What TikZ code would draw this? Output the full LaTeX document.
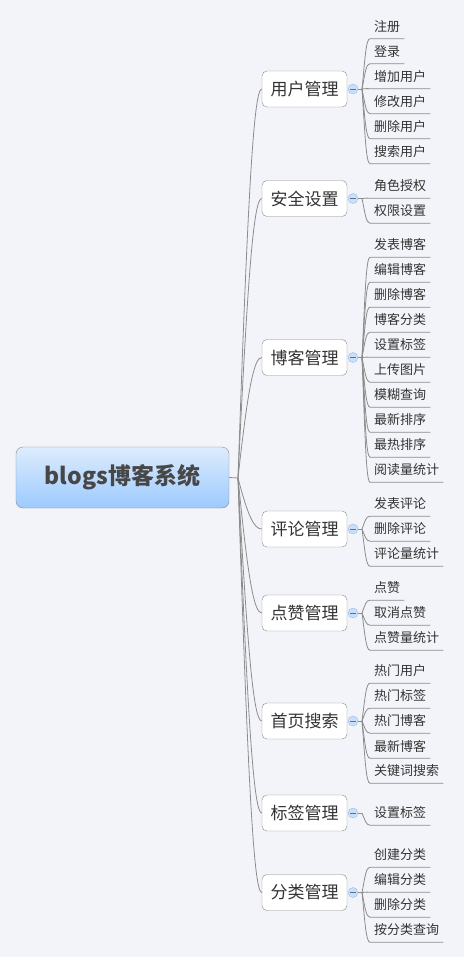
\documentclass[tikz,border=0pt]{standalone}
\usepackage{fontspec}
\newfontfamily\cjk{Noto Sans CJK SC}
\usetikzlibrary{calc}
\definecolor{bgcol}{HTML}{F3F4F9}
\definecolor{linecol}{HTML}{8C8C8C}
\definecolor{boxcol}{HTML}{8A8A8A}
\definecolor{rootA}{HTML}{DDECFD}
\definecolor{rootB}{HTML}{9CCAFE}
\definecolor{dotfill}{HTML}{CCDFF9}
\definecolor{dotdraw}{HTML}{98BBEB}
\definecolor{txtcol}{HTML}{333333}
\tikzset{rootbox/.style = {draw=boxcol,rounded corners=7pt,top color=rootA,bottom color=rootB,
                           minimum width=213pt,minimum height=61pt,inner sep=0pt,
                           font=\cjk\bfseries\fontsize{23}{27}\selectfont,text=black!72}}
\tikzset{branch/.style = {draw=boxcol,fill=white,rounded corners=5pt,minimum width=85pt,
                          minimum height=36pt,inner sep=0pt,font=\cjk\fontsize{17}{20}\selectfont,text=txtcol}}
\tikzset{leaf/.style = {anchor=west,minimum height=24pt,inner xsep=4pt,inner ysep=0pt,
                        font=\cjk\fontsize{13}{16}\selectfont,text=txtcol}}
\tikzset{link/.style = {draw=linecol,line width=0.8pt}}
\tikzset{dot/.style = {circle,draw=dotdraw,fill=dotfill,minimum size=10pt,inner sep=0pt}}
% #1 branch name, #2 its y, #3 number of leaves, #4 leaves
\newcommand\leafgroup[4]{%
  \node[dot] (#1-dot) at (353,#2) {};
  \draw[dotdraw!60!black,line width=0.7pt] (#1-dot.center) +(-2.8,0) -- +(2.8,0);
  \coordinate (#1-fork) at (362,#2);
  \draw[link] (#1-dot) -- (#1-fork);
  \foreach \txt [count=\i] in {#4}{
    \pgfmathsetmacro\ly{#2+(\i-(#3+1)/2)*25}
    \pgfmathsetmacro\uy{\ly+12}
    \pgfmathsetmacro\cy{#2+0.6*(\uy-#2)}
    \node[leaf] (#1-\i) at (370,\ly) {\txt};
    \draw[link] (#1-fork) .. controls (365,\cy) and (366,\uy) .. (#1-\i.south west) -- (#1-\i.south east);
  }
}
% #1 branch node, #2 its y
\newcommand\branchlink[2]{%
  \pgfmathsetmacro\cy{#2+0.25*(478-#2)}
  \draw[link] (hub) .. controls (248,\cy) and (254,#2) .. (#1.west);
}
\begin{document}
\begin{tikzpicture}[x=1pt,y=-1pt]
    \fill[bgcol] (0,0) rectangle (464,957);
    \useasboundingbox (0,0) rectangle (464,957);

    \node[rootbox] (root) at (122.5,477.5) {blogs博客系统};
    \coordinate (hub) at (238,478);
    \draw[link] (root.east) -- (hub);

    \node[branch] (user) at (304.5,89) {用户管理};
    \node[branch] (safe) at (304.5,198.5) {安全设置};
    \node[branch] (blog) at (304.5,357.5) {博客管理};
    \node[branch] (comment) at (304.5,529) {评论管理};
    \node[branch] (like) at (304.5,613) {点赞管理};
    \node[branch] (home) at (304.5,721) {首页搜索};
    \node[branch] (tag) at (304.5,813) {标签管理};
    \node[branch] (sort) at (304.5,892.5) {分类管理};

    \branchlink{user}{89}
    \branchlink{safe}{198.5}
    \branchlink{blog}{357.5}
    \branchlink{comment}{529}
    \branchlink{like}{613}
    \branchlink{home}{721}
    \branchlink{tag}{813}
    \branchlink{sort}{892.5}

    \leafgroup{user}{89}{6}{注册,登录,增加用户,修改用户,删除用户,搜索用户}
    \leafgroup{safe}{198.5}{2}{角色授权,权限设置}
    \leafgroup{blog}{357.5}{10}{发表博客,编辑博客,删除博客,博客分类,设置标签,上传图片,模糊查询,最新排序,最热排序,阅读量统计}
    \leafgroup{comment}{529}{3}{发表评论,删除评论,评论量统计}
    \leafgroup{like}{613}{3}{点赞,取消点赞,点赞量统计}
    \leafgroup{home}{721}{5}{热门用户,热门标签,热门博客,最新博客,关键词搜索}
    \leafgroup{tag}{813}{1}{设置标签}
    \leafgroup{sort}{892.5}{4}{创建分类,编辑分类,删除分类,按分类查询}
\end{tikzpicture}
\end{document}
